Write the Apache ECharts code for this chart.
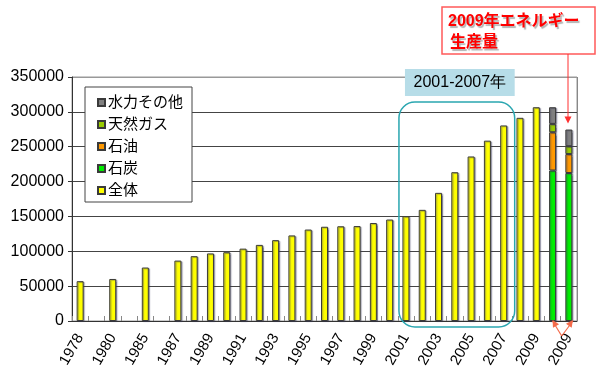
<!DOCTYPE html>
<html><head><meta charset="utf-8">
<script src="https://cdn.jsdelivr.net/npm/echarts@6/dist/echarts.min.js"></script>
<style>html,body{margin:0;padding:0;background:#fff}#c{width:600px;height:373px}</style>
</head><body><div id="c"></div>
<script>
// Categories (blank entries are spacer slots in the original chart)
const categories = ['1978','','1980','','1985','','1987','1988','1989','1990','1991','1992','1993','1994','1995','1996','1997','1998','1999','2000','2001','2002','2003','2004','2005','2006','2007','2008','2009','2009','2009'];
// 全体 (total) values, one per yearly slot
const totalValues = [57144,null,60275,null,76682,null,86632,92997,96934,98703,103783,109170,115993,122737,131176,135192,135909,136184,140569,145531,150406,159431,183792,213456,235997,258676,280508,291448,306647];
// 2009 breakdown bars (first: total 2009, second: 2009 energy production)
const coalValues  = [215879, 212280];
const oilValues   = [54890, 27187];
const gasValues   = [11959, 11259];
const hydroValues = [23919, 23892];
const yTicks = [0, 50000, 100000, 150000, 200000, 250000, 300000, 350000];

const nYear = totalValues.length;
const pad = (arr) => Array(nYear).fill(null).concat(arr);
const totalFull = totalValues.concat([null, null]);

const FONT = "'Liberation Sans', Arial, 'Noto Sans CJK JP', sans-serif";
const border = { borderColor: '#3a3a3a', borderWidth: 1, shadowColor: 'rgba(60,60,90,0.45)', shadowOffsetX: 1.2, shadowOffsetY: 0.8, shadowBlur: 1 };

const chart = echarts.init(document.getElementById('c'), null, { renderer: 'canvas' });
const option = {
  animation: false,
  backgroundColor: '#fff',
  textStyle: { fontFamily: FONT },
  grid: { left: 72, right: 23, top: 77, bottom: 52, containLabel: false, outerBoundsMode: 'none',
          show: true, borderColor: '#999', borderWidth: 1, backgroundColor: 'transparent' },
  legend: {
    orient: 'vertical', left: 85, top: 87,
    data: ['水力その他', '天然ガス', '石油', '石炭', '全体'],
    icon: 'rect', itemWidth: 7, itemHeight: 7, itemGap: 7,
    padding: [8, 9, 4, 12],
    backgroundColor: '#fff', borderColor: '#444', borderWidth: 1,
    textStyle: { fontSize: 15, color: '#000', fontFamily: FONT, padding: [0, 0, 0, -2] },
    selectedMode: false
  },
  xAxis: {
    type: 'category', data: categories, boundaryGap: true,
    axisLine: { show: true, lineStyle: { color: '#333', width: 1 } },
    axisTick: { show: true, inside: true, length: 5, interval: 0, lineStyle: { color: '#888' } },
    axisLabel: { interval: 1, rotate: 60, fontSize: 15, color: '#000', margin: 14, fontFamily: FONT },
    splitLine: { show: true, interval: (i) => i === nYear, lineStyle: { color: '#888', width: 1 } }
  },
  yAxis: {
    type: 'value', min: 0, max: 350000, interval: 50000,
    axisLine: { show: true, lineStyle: { color: '#333', width: 1 } },
    axisTick: { show: true, length: 4, lineStyle: { color: '#333' } },
    axisLabel: { fontSize: 16, color: '#000', margin: 8, fontFamily: FONT,
                 formatter: (v) => String(yTicks.find(t => t === v) ?? v) },
    splitLine: { show: true, lineStyle: { color: ['#444','#444','#444','#444','#444','#444','#444','#999'], width: 1 } }
  },
  series: [
    { name: '全体', type: 'bar', data: totalFull, barWidth: 7, barGap: '-100%',
      itemStyle: Object.assign({ color: '#ffff00' }, border) },
    { name: '石炭', type: 'bar', stack: 'mix', data: pad(coalValues), barWidth: 7,
      itemStyle: Object.assign({ color: '#00ee00' }, border) },
    { name: '石油', type: 'bar', stack: 'mix', data: pad(oilValues), barWidth: 7,
      itemStyle: Object.assign({ color: '#ff9900' }, border) },
    { name: '天然ガス', type: 'bar', stack: 'mix', data: pad(gasValues), barWidth: 7,
      itemStyle: Object.assign({ color: '#99cc00' }, border) },
    { name: '水力その他', type: 'bar', stack: 'mix', data: pad(hydroValues), barWidth: 7,
      itemStyle: Object.assign({ color: '#808080' }, border) }
  ]
};
chart.setOption(option);

// Annotations anchored to axis positions
const px = (i, v) => chart.convertToPixel({ gridIndex: 0 }, [i, v]);
const i2001 = categories.indexOf('2001');
const i2007 = categories.indexOf('2007');
const a = px(i2001, 314000), b = px(i2007, 0);
const rectL = a[0] - 7, rectR = b[0] + 11, rectT = a[1], rectB = b[1] + 6;
const s1 = px(nYear, 0), s2 = px(nYear + 1, 0);
const topS2 = px(nYear + 1, coalValues[1] + oilValues[1] + gasValues[1] + hydroValues[1]);
const apexX = (s1[0] + s2[0]) / 2 + 1, apexY = s1[1] + 15;

function arrowHead(x1, y1, x2, y2, size, color) {
  const ang = Math.atan2(y2 - y1, x2 - x1);
  const w = size * 0.5;
  const bx = x2 - size * Math.cos(ang), by = y2 - size * Math.sin(ang);
  return { type: 'polygon', shape: { points: [[x2, y2],
      [bx + w * Math.sin(ang), by - w * Math.cos(ang)],
      [bx - w * Math.sin(ang), by + w * Math.cos(ang)]] },
    style: { fill: color }, z: 100 };
}

const orange = '#f46a4a';
chart.setOption({
  graphic: [
    { type: 'rect', shape: { x: rectL, y: rectT, width: rectR - rectL, height: rectB - rectT, r: 16 },
      style: { fill: 'none', stroke: '#2aa6b0', lineWidth: 1.5 }, z: 90 },
    { type: 'rect', shape: { x: rectL + 6, y: 69, width: rectR - rectL - 6, height: 27 },
      style: { fill: '#b7dde8' }, z: 91 },
    { type: 'text', x: (rectL + 6 + rectR) / 2, y: 82.5,
      style: { text: '2001-2007年', fontSize: 16, fill: '#000', font: "16px " + FONT, align: 'center', verticalAlign: 'middle' }, z: 92 },
    { type: 'rect', shape: { x: 442, y: 7, width: 153, height: 47 },
      style: { fill: '#fff', stroke: '#ff5a5a', lineWidth: 1.5 }, z: 93 },
    { type: 'text', x: 448, y: 22,
      style: { text: '2009年エネルギー', font: "bold 16px " + FONT, fill: '#ff0000', verticalAlign: 'middle',
               textShadowColor: 'rgba(0,0,0,0.3)', textShadowOffsetX: 1.5, textShadowOffsetY: 1.5, textShadowBlur: 1 }, z: 94 },
    { type: 'text', x: 450, y: 43,
      style: { text: '生産量', font: "bold 16px " + FONT, fill: '#ff0000', verticalAlign: 'middle',
               textShadowColor: 'rgba(0,0,0,0.3)', textShadowOffsetX: 1.5, textShadowOffsetY: 1.5, textShadowBlur: 1 }, z: 94 },
    { type: 'line', shape: { x1: 568, y1: 54, x2: 568, y2: topS2[1] - 10 },
      style: { stroke: '#ff3030', lineWidth: 1 }, z: 95 },
    arrowHead(568, 54, 568, topS2[1] - 6, 7, '#ff3030'),
    { type: 'line', shape: { x1: apexX, y1: apexY, x2: s1[0], y2: s1[1] },
      style: { stroke: orange, lineWidth: 1.2 }, z: 95 },
    { type: 'line', shape: { x1: apexX, y1: apexY, x2: s2[0] + 4, y2: s2[1] },
      style: { stroke: orange, lineWidth: 1.2 }, z: 95 },
    arrowHead(apexX, apexY, s1[0], s1[1] - 1, 7, orange),
    arrowHead(apexX, apexY, s2[0] + 4, s2[1] - 1, 7, orange)
  ]
});
</script>
</body></html>
